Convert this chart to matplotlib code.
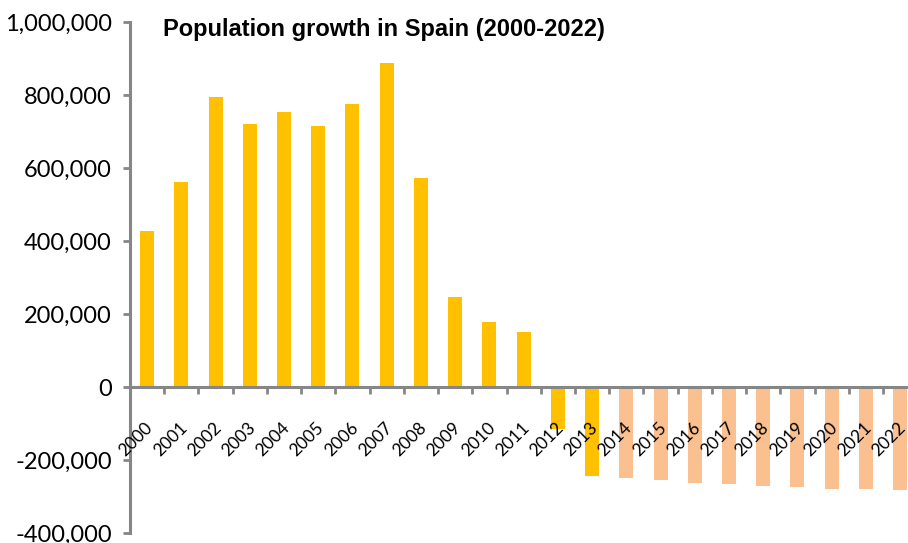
import matplotlib
matplotlib.use('Agg')
import matplotlib.pyplot as plt
import matplotlib.transforms as mtransforms
import numpy as np

# data
years = ['2000', '2001', '2002', '2003', '2004', '2005', '2006', '2007', '2008',
         '2009', '2010', '2011', '2012', '2013', '2014', '2015', '2016', '2017',
         '2018', '2019', '2020', '2021', '2022']
growth = [428000, 561000, 795000, 720000, 753000, 715000, 776000, 887000, 573000,
          246000, 177000, 150000, -116000, -245000, -248000, -254000, -262000,
          -265000, -270000, -273000, -279000, -279000, -281000]
first_projection = '2014'
title = 'Population growth in Spain (2000-2022)'
yticks = [-400000, -200000, 0, 200000, 400000, 600000, 800000, 1000000]

col_obs = '#FFC000'
col_proj = '#FAC090'
grey = '#868686'

x = np.arange(len(years))
proj_idx = years.index(first_projection)
colors = [col_obs if i < proj_idx else col_proj for i in x]

fig = plt.figure(figsize=(9.08, 5.43), dpi=100)
ax = fig.add_axes([130 / 908, 1 - 533 / 543, 1 - 130 / 908, 511 / 543])

ax.bar(x, growth, width=0.41, color=colors, zorder=1)

ax.set_xlim(-0.5, 22.23)
ax.set_ylim(-400000, 1000000)

# spines
for s in ['top', 'right']:
    ax.spines[s].set_visible(False)
ax.spines['left'].set_color(grey)
ax.spines['left'].set_linewidth(2.2)
ax.spines['bottom'].set_color(grey)
ax.spines['bottom'].set_linewidth(2.2)
ax.spines['bottom'].set_position(('data', 0))
ax.set_axisbelow(False)

# y axis
ax.set_yticks(yticks)
ax.set_yticklabels([f'{v:,}' for v in yticks], fontsize=17, family='Lato')
ax.tick_params(axis='y', direction='out', length=5, width=2, color=grey, pad=8)

# x axis: labels at centres, tick marks at category boundaries
ax.set_xticks(x)
ax.set_xticklabels(years, rotation=45, ha='center', va='center', fontsize=12.5,
                   family='Lato')
ax.tick_params(axis='x', which='major', length=0, pad=38)
ax.set_xticks(x[:-1] + 0.5, minor=True)
ax.tick_params(axis='x', which='minor', direction='out', length=5, width=2, color=grey)
shift = mtransforms.ScaledTranslation(-11 / 100, 0, fig.dpi_scale_trans)
for lab in ax.get_xticklabels():
    lab.set_transform(lab.get_transform() + shift)

fig.text(163 / 908, 1 - 36 / 543, title, fontsize=17, fontweight='bold',
         family='Liberation Sans', ha='left', va='baseline')

fig.savefig('out.png', dpi=100)
